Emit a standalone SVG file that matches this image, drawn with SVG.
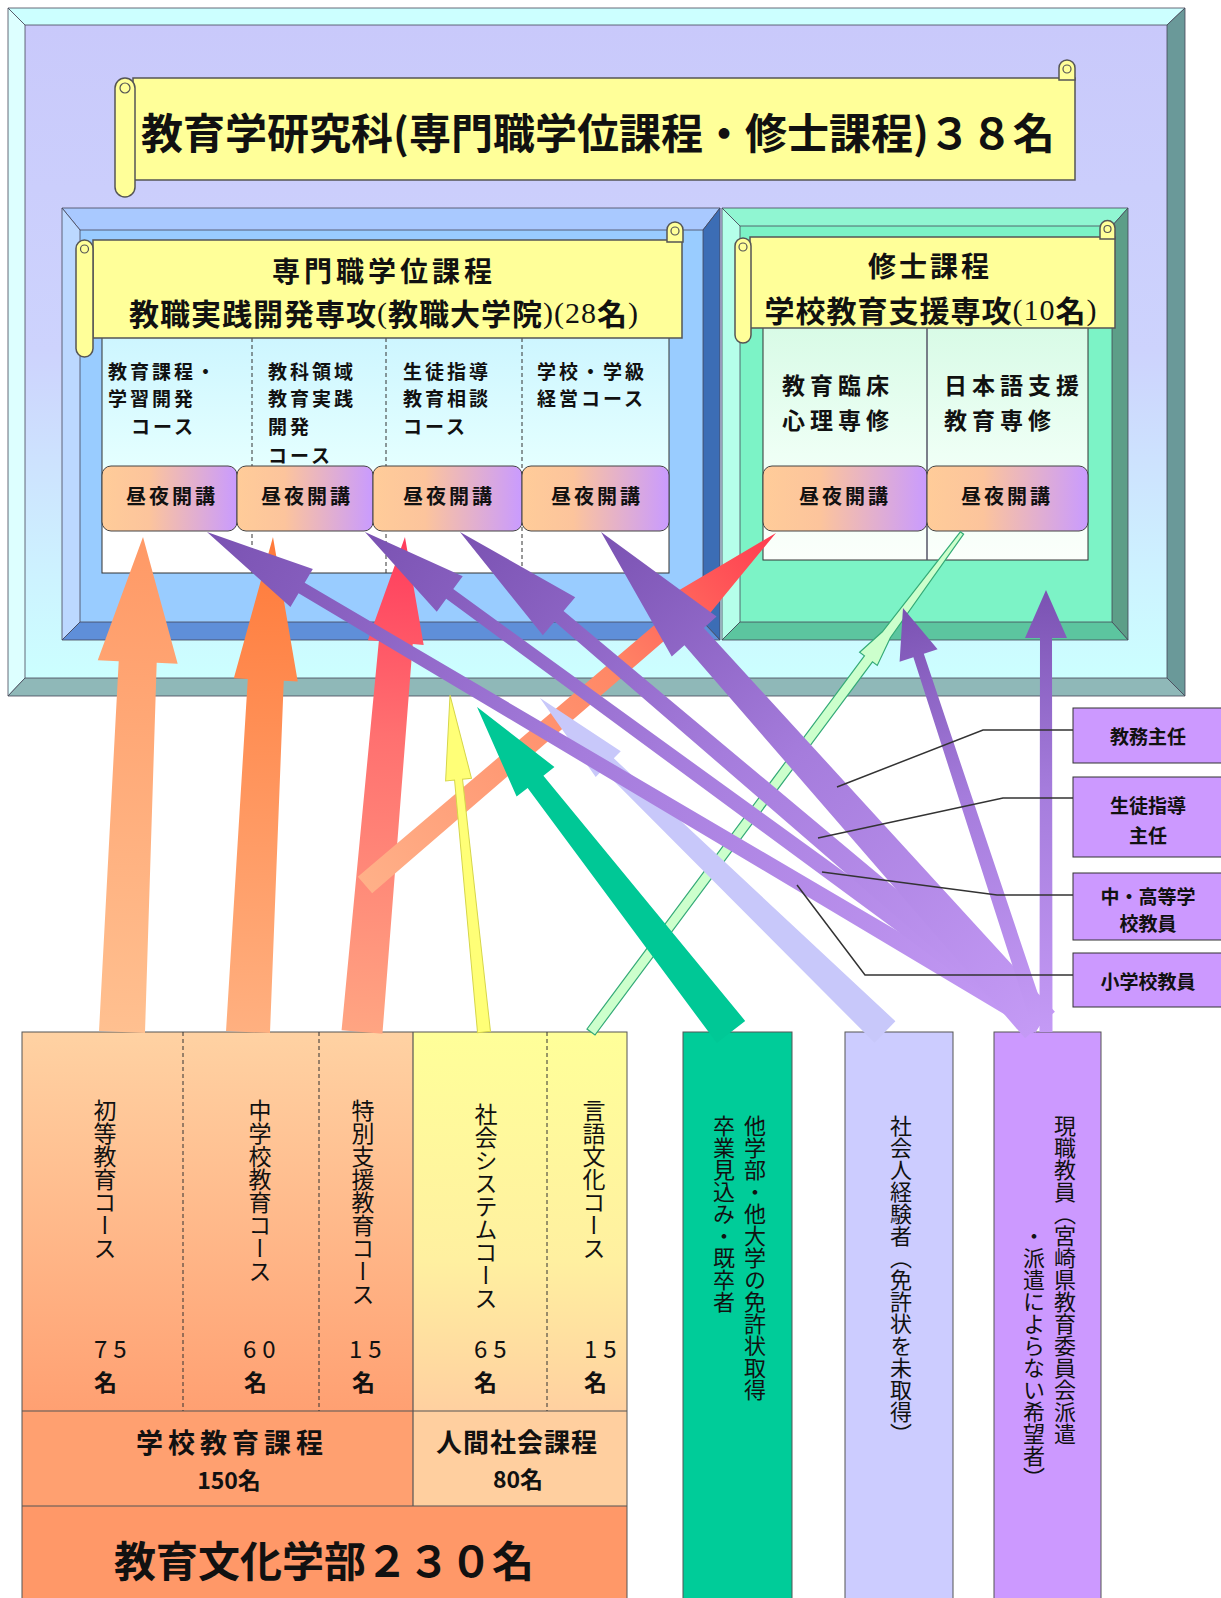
<svg xmlns="http://www.w3.org/2000/svg" width="1221" height="1598" viewBox="0 0 1221 1598">
<defs>
<linearGradient id="gInner" x1="0" y1="0" x2="0" y2="1"><stop offset="0" stop-color="#c9c9fb"/><stop offset="0.5" stop-color="#cdd3fd"/><stop offset="0.85" stop-color="#cdf3ff"/><stop offset="1" stop-color="#ccffff"/></linearGradient>
<linearGradient id="gTL" x1="0" y1="0" x2="0" y2="1"><stop offset="0" stop-color="#ccf5ff"/><stop offset="0.55" stop-color="#e4ffff"/><stop offset="0.6" stop-color="#ffffff"/><stop offset="1" stop-color="#ffffff"/></linearGradient>
<linearGradient id="gTR" x1="0" y1="0" x2="0" y2="1"><stop offset="0" stop-color="#d8fbe6"/><stop offset="0.55" stop-color="#eefff5"/><stop offset="1" stop-color="#fbfffb"/></linearGradient>
<linearGradient id="gBtn" x1="0" y1="0" x2="1" y2="0"><stop offset="0" stop-color="#ffcc99"/><stop offset="0.35" stop-color="#fcc49c"/><stop offset="1" stop-color="#c99bff"/></linearGradient>
<linearGradient id="gBL" x1="0" y1="0" x2="0" y2="1"><stop offset="0" stop-color="#ffd2a3"/><stop offset="1" stop-color="#ffa072"/></linearGradient>
<linearGradient id="gBR" x1="0" y1="0" x2="0" y2="1"><stop offset="0" stop-color="#ffff99"/><stop offset="0.6" stop-color="#fff0a0"/><stop offset="1" stop-color="#ffd0a0"/></linearGradient>
<linearGradient id="gArrA" x1="0" y1="0" x2="1" y2="0"><stop offset="0" stop-color="#ffc090"/><stop offset="1" stop-color="#ff9966"/></linearGradient>
<linearGradient id="gArrB" x1="0" y1="0" x2="1" y2="0"><stop offset="0" stop-color="#ffb080"/><stop offset="1" stop-color="#ff7a3a"/></linearGradient>
<linearGradient id="gArrC" x1="0" y1="0" x2="1" y2="0"><stop offset="0" stop-color="#ffa582"/><stop offset="0.6" stop-color="#ff7070"/><stop offset="1" stop-color="#ff3b5c"/></linearGradient>
<linearGradient id="gArrD" x1="0" y1="0" x2="1" y2="0"><stop offset="0" stop-color="#ffb088"/><stop offset="0.6" stop-color="#ff8866"/><stop offset="1" stop-color="#ff3b50"/></linearGradient>
<linearGradient id="gPur" x1="0" y1="0" x2="1" y2="0"><stop offset="0" stop-color="#c49af5"/><stop offset="0.55" stop-color="#a57cdc"/><stop offset="1" stop-color="#7a52b2"/></linearGradient>
<style>
text{font-family:"Noto Sans CJK JP","Noto Sans CJK SC",sans-serif;fill:#111}
.b{font-weight:bold}
.serif{font-family:"Liberation Serif","Noto Sans CJK JP",serif;font-weight:normal}
.v{writing-mode:vertical-rl}
.c{text-anchor:middle;dominant-baseline:central}
.scroll{fill:#ffff99;stroke:#555;stroke-width:1.5}
.curl{fill:none;stroke:#555;stroke-width:1.2}
.btn{fill:url(#gBtn);stroke:#444;stroke-width:1}
.btnt{font-size:20px;font-weight:bold;letter-spacing:3px;text-anchor:middle;dominant-baseline:central}
.crs{font-size:19px;font-weight:bold;letter-spacing:3px;dominant-baseline:central}
.mst{font-size:23px;font-weight:bold;letter-spacing:5px;dominant-baseline:central}
.dash{stroke:#333;stroke-width:1;stroke-dasharray:4 3}
.edge{stroke:#445;stroke-width:0.8}
.lbl{fill:#cc99ff;stroke:#333;stroke-width:1}
.lblt{font-size:19px;font-weight:bold;text-anchor:middle;dominant-baseline:central}
.lead{fill:none;stroke:#333;stroke-width:1.5}
.pur{fill:url(#gPur)}
.vt{font-size:23px}
.num{font-size:24px;letter-spacing:6px;dominant-baseline:central}
</style>
</defs>

<g id="frame-outer">
<rect x="25" y="25" width="1142" height="653" fill="url(#gInner)"/>
<polygon class="edge" points="8,8 1185,8 1167,25 25,25" fill="#ccffff"/>
<polygon class="edge" points="8,8 25,25 25,678 8,696" fill="#ddffff"/>
<polygon class="edge" points="1185,8 1185,696 1167,678 1167,25" fill="#6a9999"/>
<polygon class="edge" points="8,696 1185,696 1167,678 25,678" fill="#8fb8b8"/>
</g>

<g id="title">
<rect class="scroll" x="133" y="78" width="942" height="102"/>
<path class="scroll" d="M1059,80 V68 a8,8 0 0 1 16,0 V80 Z"/>
<circle class="curl" cx="1067" cy="69" r="4"/>
<rect class="scroll" x="115" y="78" width="20" height="119" rx="10"/>
<circle class="curl" cx="125" cy="88" r="5"/>
<text class="b c" x="598" y="130" font-size="42">教育学研究科(専門職学位課程・修士課程)３８名</text>
</g>

<g id="panel-prof">
<rect x="80" y="230" width="623" height="392" fill="#99ccff"/>
<polygon class="edge" points="62,208 720,208 703,230 80,230" fill="#a9c9ff"/>
<polygon class="edge" points="62,208 80,230 80,622 62,640" fill="#bcd8ff"/>
<polygon class="edge" points="720,208 720,640 703,622 703,230" fill="#3c6db5"/>
<polygon class="edge" points="62,640 720,640 703,622 80,622" fill="#5f8fd9"/>
<rect x="102" y="330" width="567" height="243" fill="url(#gTL)" stroke="#333" stroke-width="1"/>
<line class="dash" x1="252" y1="338" x2="252" y2="573"/>
<line class="dash" x1="386" y1="338" x2="386" y2="573"/>
<line class="dash" x1="522" y1="338" x2="522" y2="573"/>
<text class="crs" x="108" y="370">教育課程・</text>
<text class="crs" x="108" y="397">学習開発</text>
<text class="crs" x="131" y="425">コース</text>
<text class="crs" x="268" y="370">教科領域</text>
<text class="crs" x="268" y="397">教育実践</text>
<text class="crs" x="268" y="425">開発</text>
<text class="crs" x="268" y="454">コース</text>
<text class="crs" x="403" y="370">生徒指導</text>
<text class="crs" x="403" y="397">教育相談</text>
<text class="crs" x="403" y="425">コース</text>
<text class="crs" x="537" y="370">学校・学級</text>
<text class="crs" x="537" y="397">経営コース</text>
<rect class="btn" x="102" y="466" width="135" height="65" rx="9"/>
<rect class="btn" x="237" y="466" width="136" height="65" rx="9"/>
<rect class="btn" x="373" y="466" width="149" height="65" rx="9"/>
<rect class="btn" x="522" y="466" width="147" height="65" rx="9"/>
<text class="btnt" x="172" y="495">昼夜開講</text>
<text class="btnt" x="307" y="495">昼夜開講</text>
<text class="btnt" x="449" y="495">昼夜開講</text>
<text class="btnt" x="597" y="495">昼夜開講</text>
<rect class="scroll" x="93" y="240" width="589" height="98"/>
<path class="scroll" d="M667,242 V230 a8,8 0 0 1 16,0 V242 Z"/>
<circle class="curl" cx="675" cy="231" r="4"/>
<rect class="scroll" x="76" y="240" width="17" height="117" rx="8.5"/>
<circle class="curl" cx="84.500" cy="249" r="4"/>
<text class="b c" x="384" y="270" font-size="28" letter-spacing="4">専門職学位課程</text>
<text class="c" x="384" y="312" font-size="30" letter-spacing="1"><tspan class="b">教職実践開発専攻</tspan><tspan class="serif">(</tspan><tspan class="b">教職大学院</tspan><tspan class="serif">)(28</tspan><tspan class="b">名</tspan><tspan class="serif">)</tspan></text>
</g>

<g id="panel-master">
<rect x="740" y="226" width="372" height="396" fill="#7cf3c6"/>
<polygon class="edge" points="722,208 1128,208 1112,226 740,226" fill="#90f6d2"/>
<polygon class="edge" points="722,208 740,226 740,622 722,640" fill="#b5ffea"/>
<polygon class="edge" points="1128,208 1128,640 1112,622 1112,226" fill="#5d9e88"/>
<polygon class="edge" points="722,640 1128,640 1112,622 740,622" fill="#5cc59f"/>
<rect x="763" y="325" width="325" height="235" fill="url(#gTR)" stroke="#333" stroke-width="1"/>
<line x1="927" y1="325" x2="927" y2="560" stroke="#556" stroke-width="1.5"/>
<text class="mst" x="782" y="384">教育臨床</text>
<text class="mst" x="782" y="419">心理専修</text>
<text class="mst" x="944" y="384">日本語支援</text>
<text class="mst" x="944" y="419">教育専修</text>
<rect class="btn" x="763" y="466" width="164" height="65" rx="9"/>
<rect class="btn" x="927" y="466" width="161" height="65" rx="9"/>
<text class="btnt" x="845" y="495">昼夜開講</text>
<text class="btnt" x="1007" y="495">昼夜開講</text>
<rect class="scroll" x="750" y="237" width="365" height="91"/>
<path class="scroll" d="M1100,239 V228 a7.500,7.500 0 0 1 15,0 V239 Z"/>
<circle class="curl" cx="1107.500" cy="229" r="3.500"/>
<rect class="scroll" x="735" y="238" width="16" height="105" rx="8"/>
<circle class="curl" cx="743" cy="247" r="4"/>
<text class="b c" x="930" y="265" font-size="28" letter-spacing="3">修士課程</text>
<text class="c" x="931" y="309" font-size="30" letter-spacing="1"><tspan class="b">学校教育支援専攻</tspan><tspan class="serif">(10</tspan><tspan class="b">名</tspan><tspan class="serif">)</tspan></text>
</g>

<g id="faculty">
<rect x="22" y="1032" width="391" height="379" fill="url(#gBL)"/>
<rect x="413" y="1032" width="214" height="379" fill="url(#gBR)"/>
<rect x="22" y="1411" width="391" height="95" fill="#ffa070"/>
<rect x="413" y="1411" width="214" height="95" fill="#ffcf9f"/>
<rect x="22" y="1506" width="605" height="92" fill="#ff9868"/>
<rect x="22" y="1032" width="605" height="570" fill="none" stroke="#555" stroke-width="1"/>
<line x1="22" y1="1411" x2="627" y2="1411" stroke="#555" stroke-width="1.2"/>
<line x1="22" y1="1506" x2="627" y2="1506" stroke="#555" stroke-width="1.2"/>
<line x1="413" y1="1032" x2="413" y2="1506" stroke="#555" stroke-width="1.2"/>
<line class="dash" x1="183" y1="1032" x2="183" y2="1411"/>
<line class="dash" x1="319" y1="1032" x2="319" y2="1411"/>
<line class="dash" x1="547" y1="1032" x2="547" y2="1411"/>
<text class="v vt" x="105" y="1099">初等教育コース</text>
<text class="v vt" x="260" y="1099">中学校教育コース</text>
<text class="v vt" x="363" y="1099">特別支援教育コース</text>
<text class="v vt" x="486" y="1103">社会システムコース</text>
<text class="v vt" x="594" y="1099">言語文化コース</text>
<text class="num" x="94" y="1347">75</text>
<text class="num" x="243" y="1347">60</text>
<text class="num" x="349" y="1347">15</text>
<text class="num" x="474" y="1347">65</text>
<text class="num" x="584" y="1347">15</text>
<text class="b" x="94" y="1381" font-size="23" dominant-baseline="central">名</text>
<text class="b" x="244" y="1381" font-size="23" dominant-baseline="central">名</text>
<text class="b" x="352" y="1381" font-size="23" dominant-baseline="central">名</text>
<text class="b" x="474" y="1381" font-size="23" dominant-baseline="central">名</text>
<text class="b" x="584" y="1381" font-size="23" dominant-baseline="central">名</text>
<text class="b c" x="232" y="1441" font-size="27" letter-spacing="5">学校教育課程</text>
<text class="b c" x="229" y="1479" font-size="23">150名</text>
<text class="b c" x="517" y="1440" font-size="26" letter-spacing="1">人間社会課程</text>
<text class="b c" x="518" y="1478" font-size="23">80名</text>
<text class="b c" x="324" y="1558" font-size="42">教育文化学部２３０名</text>
</g>

<g id="box-other">
<rect x="683" y="1032" width="109" height="570" fill="#00cc99" stroke="#555" stroke-width="1"/>
<text class="v" x="755" y="1115" font-size="22">他学部・他大学の免許状取得</text>
<text class="v" x="724" y="1115" font-size="22">卒業見込み・既卒者</text>
</g>

<g id="box-shakaijin">
<rect x="845" y="1032" width="108" height="570" fill="#ccccff" stroke="#555" stroke-width="1"/>
<text class="v" x="901" y="1115" font-size="22">社会人経験者（免許状を未取得）</text>
</g>

<g id="box-genshoku">
<rect x="994" y="1032" width="107" height="570" fill="#cc99ff" stroke="#555" stroke-width="1"/>
<text class="v" x="1065" y="1115" font-size="22">現職教員（宮崎県教育委員会派遣</text>
<text class="v" x="1034" y="1225" font-size="22">・派遣によらない希望者）</text>
</g>

<g id="connectors">
<polygon transform="translate(122,1032) rotate(-87.57)" fill="url(#gArrA)" points="0,-23 370.4,-19 370.4,-40 495.4,0 370.4,40 370.4,19 0,23"/>
<polygon transform="translate(248,1032) rotate(-87.11)" fill="url(#gArrB)" points="0,-22 352.6,-18 352.6,-32 495.6,0 352.6,32 352.6,18 0,22"/>
<polygon transform="translate(362,1032) rotate(-85.04)" fill="url(#gArrC)" points="0,-20.5 390.9,-17 390.9,-28 496.9,0 390.9,28 390.9,17 0,20.5"/>
<polygon transform="translate(365,885) rotate(-40.58)" fill="url(#gArrD)" points="0,-11 416.1,-9 416.1,-22 541.1,0 416.1,22 416.1,9 0,11"/>
<polygon transform="translate(484,1032) rotate(-95.76)" fill="#ffff77" stroke="#d6d64a" stroke-width="1" points="0,-6.5 253.7,-4 253.7,-13 338.7,0 253.7,13 253.7,4 0,6.5"/>
<polygon transform="translate(591,1032) rotate(-53.37)" fill="#ccffcc" stroke="#33aa77" stroke-width="1.2" points="0,-5 465,-5 465,-11 495,-5 621.8,-2 621.8,2 495,5 465,11 465,5 0,5"/>
<polygon transform="translate(885,1032) rotate(-135.93)" fill="#c8c8fa" points="0,-15 385.2,-8 385.2,-18 480.2,0 385.2,18 385.2,8 0,15"/>
<polygon transform="translate(731,1032) rotate(-128)" fill="#00c896" points="0,-18 317.5,-10 317.5,-24 412.5,0 317.5,24 317.5,10 0,18"/>
<polygon class="pur" transform="translate(1040,1025) rotate(-149.38)" points="0,-9 858,-6 858,-22 968,0 858,22 858,6 0,9"/>
<polygon class="pur" transform="translate(1040,1025) rotate(-143.86)" points="0,-9 730.9,-6 730.9,-22 835.9,0 730.9,22 730.9,6 0,9"/>
<polygon class="pur" transform="translate(1040,1025) rotate(-139.64)" points="0,-12 631.2,-7 631.2,-25 761.2,0 631.2,25 631.2,7 0,12"/>
<polygon class="pur" transform="translate(1040,1025) rotate(-131.68)" points="0,-20 520.1,-13 520.1,-30 660.1,0 520.1,30 520.1,13 0,20"/>
<polygon class="pur" transform="translate(1040,1025) rotate(-108.19)" points="0,-8 388.9,-5.5 388.9,-20 438.9,0 388.9,20 388.9,5.5 0,8"/>
<polygon class="pur" transform="translate(1046,1032) rotate(-90)" points="0,-6.5 394,-6 394,-21 442,0 394,21 394,6 0,6.5"/>
<polyline class="lead" points="1073,730 983,730 837,787"/>
<polyline class="lead" points="1073,798 1003,798 818,838" stroke="#000" stroke-width="2"/>
<polyline class="lead" points="1073,895 997,895 822,872"/>
<polyline class="lead" points="1073,975 865,975 797,885"/>
</g>

<g id="labels">
<g id="lbl-kyomu"><rect class="lbl" x="1073" y="708" width="160" height="55"/><text class="lblt" x="1148" y="735">教務主任</text></g>
<g id="lbl-seito"><rect class="lbl" x="1073" y="777" width="160" height="80" stroke="#000" stroke-width="2.500"/><text class="lblt" x="1148" y="804">生徒指導</text><text class="lblt" x="1148" y="834">主任</text></g>
<g id="lbl-chuko"><rect class="lbl" x="1073" y="873" width="160" height="67"/><text class="lblt" x="1148" y="895">中・高等学</text><text class="lblt" x="1148" y="922">校教員</text></g>
<g id="lbl-sho"><rect class="lbl" x="1073" y="953" width="160" height="54"/><text class="lblt" x="1148" y="980">小学校教員</text></g>
</g>
</svg>
